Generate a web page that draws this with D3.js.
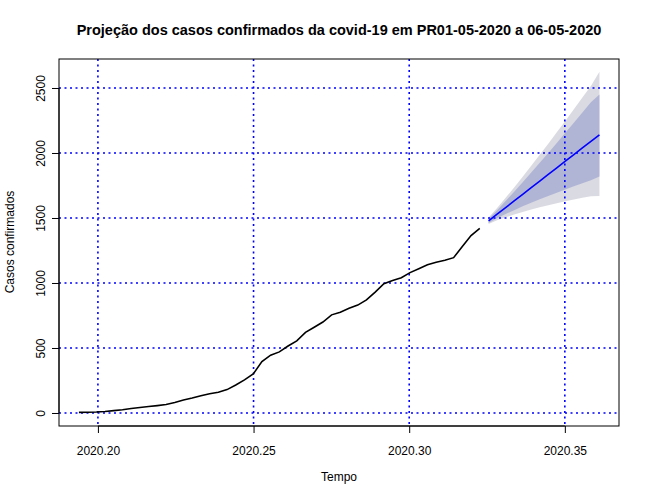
<!DOCTYPE html>
<html><head><meta charset="utf-8">
<script src="https://cdn.jsdelivr.net/npm/d3@7"></script>
<style>body{margin:0;background:#fff}text{font-family:"Liberation Sans",Arial,sans-serif}</style>
</head><body>
<script>
// daily observed cumulative cases (frequency 365)
var obsStart = 2020.1939;
var observed = [5,6,8,12,18,25,34,42,50,57,65,80,100,115,132,148,160,180,215,255,300,395,445,470,515,555,620,660,700,755,775,805,830,870,930,995,1020,1040,1080,1110,1140,1160,1175,1195,1280,1365,1420];
var fcStart = 2020.3255;
var fcMean = [1478,1529,1580,1631,1682,1733,1784,1835,1886,1937,1988,2039,2090,2140];
var lo80 = [1462,1498,1530,1560,1590,1617,1644,1670,1695,1720,1744,1767,1790,1820];
var hi80 = [1494,1560,1630,1702,1774,1849,1924,2000,2077,2155,2233,2312,2391,2450];
var lo95 = [1453,1482,1505,1527,1547,1565,1582,1598,1613,1628,1642,1655,1668,1670];
var hi95 = [1503,1576,1655,1735,1817,1901,1986,2072,2159,2247,2336,2426,2516,2625];
var xTicks = [2020.20, 2020.25, 2020.30, 2020.35];
var yTicks = [0, 500, 1000, 1500, 2000, 2500];

var W = 650, H = 500, L = 59, R = 619, T = 59, B = 426;
var svg = d3.select("body").append("svg").attr("width", W).attr("height", H);
var x = d3.scaleLinear().domain([2020.1875, 2020.3674]).range([L, R]);
var y = d3.scaleLinear().domain([-100, 2723]).range([B, T]);
var dt = 1 / 365;
var obsX = (d, i) => x(obsStart + (i === observed.length - 1 ? 47 : i) * dt);

var fc = fcMean.map((m, i) => ({t: fcStart + i * dt, m: m, l8: lo80[i], h8: hi80[i], l9: lo95[i], h9: hi95[i]}));
svg.append("path").datum(fc).attr("fill", "#dadae2")
  .attr("d", d3.area().x(d => x(d.t)).y0(d => y(d.l9)).y1(d => y(d.h9)));
svg.append("path").datum(fc).attr("fill", "#b1b5d5")
  .attr("d", d3.area().x(d => x(d.t)).y0(d => y(d.l8)).y1(d => y(d.h8)));

// grid
svg.selectAll(".gx").data(xTicks).enter().append("line")
  .attr("x1", d => x(d)).attr("x2", d => x(d)).attr("y1", T).attr("y2", B)
  .attr("stroke", "blue").attr("stroke-width", 1.6).attr("stroke-dasharray", "2,3.5");
svg.selectAll(".gy").data(yTicks).enter().append("line")
  .attr("y1", d => y(d)).attr("y2", d => y(d)).attr("x1", L).attr("x2", R)
  .attr("stroke", "blue").attr("stroke-width", 1.6).attr("stroke-dasharray", "2,3.5");

svg.append("path").datum(observed).attr("fill", "none").attr("stroke", "#000").attr("stroke-width", 1.6)
  .attr("d", d3.line().x((d, i) => x(obsStart + i * dt * 47 / 46)).y(d => y(d)));
svg.append("path").datum(fc).attr("fill", "none").attr("stroke", "blue").attr("stroke-width", 1.6)
  .attr("d", d3.line().x(d => x(d.t)).y(d => y(d.m)));

svg.append("rect").attr("x", L).attr("y", T).attr("width", R - L).attr("height", B - T)
  .attr("fill", "none").attr("stroke", "#000");

var xa = svg.append("g").attr("transform", "translate(0," + B + ")")
  .call(d3.axisBottom(x).tickValues(xTicks).tickFormat(d3.format(".2f")).tickSizeOuter(0).tickSize(7));
xa.select(".domain").attr("d", "M" + x(xTicks[0]) + ",0H" + x(xTicks[3]));
xa.selectAll("text").attr("font-size", 12).attr("dy", "1.6em").style("font-family", "Liberation Sans, Arial");
var ya = svg.append("g").attr("transform", "translate(" + L + ",0)")
  .call(d3.axisLeft(y).tickValues(yTicks).tickSizeOuter(0).tickSize(7).tickFormat(d3.format("d")));
ya.select(".domain").attr("d", "M0," + y(0) + "V" + y(2500));
ya.selectAll(".tick text").attr("font-size", 12).attr("transform", "rotate(-90)")
  .attr("x", 0).attr("dx", 0).attr("y", -14).attr("dy", 0).attr("text-anchor", "middle")
  .style("font-family", "Liberation Sans, Arial");

svg.append("text").attr("x", 339).attr("y", 35).attr("text-anchor", "middle")
  .attr("font-size", 14.5).attr("font-weight", "bold")
  .text("Projeção dos casos confirmados da covid-19 em PR01-05-2020 a 06-05-2020");
svg.append("text").attr("x", 339).attr("y", 481).attr("text-anchor", "middle").attr("font-size", 12).text("Tempo");
svg.append("text").attr("transform", "translate(14,242) rotate(-90)").attr("text-anchor", "middle")
  .attr("font-size", 12).text("Casos confirmados");
</script>
</body></html>
